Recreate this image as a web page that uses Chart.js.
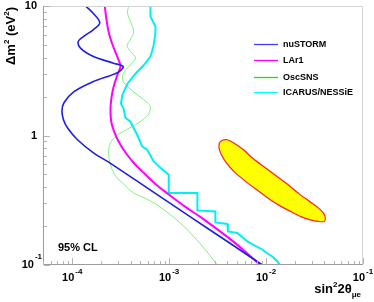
<!DOCTYPE html>
<html><head><meta charset="utf-8">
<script src="https://cdn.jsdelivr.net/npm/chart.js@4/dist/chart.umd.min.js"></script>
<style>html,body{margin:0;padding:0;background:#fff;overflow:hidden}canvas{display:block}</style>
</head><body>
<canvas id="c" width="374" height="302"></canvas>
<script>
const FONT = '"Liberation Sans", Arial, Helvetica, sans-serif';

// ---- data (sin^2 2theta, Delta m^2 in eV^2) ----
const nuStormX = [1.371e-4,1.618e-4,1.925e-4,1.658e-4,1.308e-4,1.153e-4,1.218e-4,1.658e-4,2.666e-4,3.357e-4,2.931e-4,1.658e-4,1.044e-4,8.23e-5,7.85e-5,8.13e-5,8.94e-5,1.134e-4,1.658e-4,2.483e-4,5.06e-4,1.658e-3,4.285e-3,9.16e-3];
const nuStormY = [10,8.91,7.45,6.58,5.81,5.31,4.73,4.07,3.62,3.40,3.06,2.61,2.18,1.79,1.554,1.324,1.148,0.927,0.735,0.610,0.427,0.235,0.1466,0.1];

const lar1X = [2.168e-4,2.257e-4,2.384e-4,2.603e-4,3.001e-4,3.147e-4,2.931e-4,2.685e-4,2.542e-4,2.483e-4,2.542e-4,2.795e-4,3.147e-4,3.690e-4,4.494e-4,5.472e-4,7.224e-4,9.61e-4,1.472e-3,2.103e-3,4.602e-3,8.73e-3];
const lar1Y = [10,7.86,6.24,5.04,3.86,3.42,2.95,2.40,1.96,1.554,1.255,1.013,0.848,0.710,0.594,0.515,0.423,0.357,0.281,0.235,0.1515,0.1];

const oscSnsX = [3.832e-4,3.716e-4,3.990e-4,4.315e-4,3.990e-4,3.690e-4,3.990e-4,4.494e-4,3.990e-4,3.404e-4,3.301e-4,3.629e-4,4.826e-4,6.119e-4,6.415e-4,5.975e-4,4.494e-4,3.147e-4,2.603e-4,2.396e-4,2.384e-4,2.483e-4,2.795e-4,3.380e-4,4.285e-4,6.415e-4,9.16e-4,1.404e-3,2.103e-3,3.147e-3];
const oscSnsY = [10,8.91,7.59,6.35,5.51,4.95,4.45,3.97,3.53,3.04,2.70,2.43,2.03,1.761,1.631,1.421,1.211,1.044,0.927,0.804,0.710,0.594,0.488,0.423,0.361,0.313,0.262,0.2003,0.1454,0.1];

const icarusX = [6.415e-4,6.415e-4,7.224e-4,7.224e-4,6.888e-4,6.415e-4,5.434e-4,4.494e-4,3.716e-4,3.301e-4,3.185e-4,3.380e-4,3.544e-4,3.990e-4,4.678e-4,5.27e-4,5.932e-4,6.937e-4,8.135e-4,9.91e-4,9.91e-4,1.958e-3,1.958e-3,3.001e-3,3.001e-3,3.990e-3,4.038e-3,5.06e-3,6.415e-3,7.398e-3,9.16e-3,1.031e-2,1.161e-2,1.308e-2,1.388e-2];
const icarusY = [10,8.29,6.94,6.13,4.86,4.07,3.47,3.00,2.51,2.07,1.761,1.625,1.372,1.278,1.013,0.823,0.776,0.630,0.563,0.497,0.359,0.359,0.264,0.2594,0.2132,0.2076,0.1816,0.1769,0.1520,0.1428,0.1318,0.1227,0.1163,0.1064,0.1];

const lsndX = [3.301e-3,3.544e-3,3.990e-3,4.602e-3,5.834e-3,7.398e-3,9.83e-3,1.308e-2,1.739e-2,2.258e-2,2.862e-2,3.461e-2,3.896e-2,4.086e-2,3.990e-2,3.461e-2,2.862e-2,2.258e-2,1.781e-2,1.339e-2,1.007e-2,7.76e-3,5.975e-3,4.712e-3,3.896e-3,3.461e-3,3.262e-3,3.301e-3];
const lsndY = [0.879,0.919,0.927,0.879,0.776,0.661,0.563,0.480,0.409,0.348,0.307,0.276,0.2525,0.2310,0.2170,0.2170,0.2229,0.2372,0.2594,0.2912,0.3357,0.3873,0.4505,0.524,0.6155,0.710,0.804,0.879];

const seriesNames = ['nuSTORM','LAr1','OscSNS','ICARUS/NESSiE'];
const xTickExps = [-4,-3,-2,-1];
const yTickVals = [10,1,0.1];

const pts = (xs, ys) => xs.map((x, i) => ({x, y: ys[i]}));

const legendColors = ['#3c3cff','#ff00ff','#00f000','#00ffff'];

function drawPow(ctx, base, exp, cx, yBase, yExp, align) {
  ctx.font = 'bold 11px ' + FONT;
  const wb = ctx.measureText(base).width;
  ctx.font = 'bold 8px ' + FONT;
  const we = exp ? ctx.measureText(exp).width + 1 : 0;
  const tot = wb + we;
  let x0 = align === 'right' ? cx - tot : cx - tot / 2;
  ctx.textAlign = 'left';
  ctx.textBaseline = 'middle';
  ctx.font = 'bold 11px ' + FONT;
  ctx.fillText(base, x0, yBase);
  if (exp) {
    ctx.font = 'bold 8px ' + FONT;
    ctx.fillText(exp, x0 + wb + 1, yExp);
  }
}

const rootPlugin = {
  id: 'rootAxes',
  afterDatasetsDraw(chart) {
    const ctx = chart.ctx, xs = chart.scales.x, ys = chart.scales.y, a = chart.chartArea;
    ctx.save();
    ctx.lineWidth = 1;
    ctx.strokeStyle = '#d4d4d4';
    ctx.beginPath();
    ctx.moveTo(a.left, a.top + 0.5); ctx.lineTo(a.right - 0.5, a.top + 0.5); ctx.lineTo(a.right - 0.5, a.bottom);
    ctx.stroke();
    ctx.strokeStyle = '#9c9c9c';
    ctx.beginPath();
    ctx.moveTo(a.left + 0.5, a.top); ctx.lineTo(a.left + 0.5, a.bottom - 0.5); ctx.lineTo(a.right, a.bottom - 0.5);
    ctx.stroke();
    ctx.strokeStyle = '#b4b4b4';
    ctx.beginPath();
    for (let d = -5; d <= -1; d++) {
      for (let m = 1; m <= 9; m++) {
        const v = m * Math.pow(10, d);
        if (v < xs.min * 0.999 || v > xs.max * 1.001) continue;
        const px = Math.round(xs.getPixelForValue(v)) + 0.5;
        const len = m === 1 ? 6 : 3;
        ctx.moveTo(px, a.bottom - 1); ctx.lineTo(px, a.bottom - 1 - len);
      }
    }
    for (let d = -1; d <= 1; d++) {
      for (let m = 1; m <= 9; m++) {
        const v = m * Math.pow(10, d);
        if (v < ys.min * 0.999 || v > ys.max * 1.001) continue;
        const py = Math.round(ys.getPixelForValue(v)) + 0.5;
        const len = m === 1 ? 6 : 3;
        ctx.moveTo(a.left + 1, py); ctx.lineTo(a.left + 1 + len, py);
      }
    }
    ctx.stroke();

    ctx.fillStyle = '#000';
    xTickExps.forEach(e => {
      const px = xs.getPixelForValue(Math.pow(10, e));
      drawPow(ctx, '10', String(e), px, a.bottom + 13, a.bottom + 7, 'center');
    });
    yTickVals.forEach(v => {
      const py = ys.getPixelForValue(v);
      if (v === 10) drawPow(ctx, '10', '', 37, py, py, 'right');
      else if (v === 1) drawPow(ctx, '1', '', 37, py, py, 'right');
      else drawPow(ctx, '10', String(Math.round(Math.log10(v))), 42, py, py - 8, 'right');
    });

    const parts = [
      {t: 'sin', f: 'bold 13px ', dy: 0},
      {t: '2', f: 'bold 8px ', dy: -6},
      {t: '2θ', f: 'bold 13px ', dy: 0},
      {t: 'μe', f: 'bold 8px ', dy: 4}
    ];
    let tw = 0;
    parts.forEach(p => { ctx.font = p.f + FONT; p.w = ctx.measureText(p.t).width; tw += p.w; });
    let xx = 361 - tw;
    ctx.textAlign = 'left';
    ctx.textBaseline = 'alphabetic';
    parts.forEach(p => { ctx.font = p.f + FONT; ctx.fillText(p.t, xx, 293 + p.dy); xx += p.w; });

    const yparts = [
      {t: 'Δm', f: 'bold 13px ', dy: 0},
      {t: '2', f: 'bold 8px ', dy: -6},
      {t: ' (eV', f: 'bold 13px ', dy: 0},
      {t: '2', f: 'bold 8px ', dy: -6},
      {t: ')', f: 'bold 13px ', dy: 0}
    ];
    let yw = 0;
    yparts.forEach(p => { ctx.font = p.f + FONT; p.w = ctx.measureText(p.t).width; yw += p.w; });
    ctx.save();
    ctx.translate(15, 7);
    ctx.rotate(-Math.PI / 2);
    let yy = -yw;
    yparts.forEach(p => { ctx.font = p.f + FONT; ctx.fillText(p.t, yy, p.dy); yy += p.w; });
    ctx.restore();

    ctx.font = 'bold 11px ' + FONT;
    ctx.fillText('95% CL', 58, 251);

    const rows = [44, 60, 77, 92];
    seriesNames.forEach((n, i) => {
      ctx.strokeStyle = legendColors[i];
      ctx.lineWidth = 1.3;
      ctx.beginPath();
      ctx.moveTo(254, rows[i] + 0.5); ctx.lineTo(278, rows[i] + 0.5);
      ctx.stroke();
      ctx.font = 'bold 9px ' + FONT;
      ctx.textBaseline = 'middle';
      ctx.fillStyle = '#000';
      ctx.fillText(n, 283, rows[i] + 0.5);
    });
    ctx.restore();
  }
};

new Chart(document.getElementById('c'), {
  type: 'scatter',
  data: {
    datasets: [
      {label: seriesNames[0], data: pts(nuStormX, nuStormY), showLine: true, borderColor: '#1e1ee6', borderWidth: 1.6, tension: 0.35, pointRadius: 0, fill: false},
      {label: seriesNames[1], data: pts(lar1X, lar1Y), showLine: true, borderColor: '#ff00ff', borderWidth: 2, tension: 0.35, pointRadius: 0, fill: false},
      {label: seriesNames[3], data: pts(icarusX, icarusY), showLine: true, borderColor: '#00f0f0', borderWidth: 2, tension: 0, pointRadius: 0, fill: false},
      {label: seriesNames[2], data: pts(oscSnsX, oscSnsY), showLine: true, borderColor: '#80f080', borderWidth: 1, tension: 0.35, pointRadius: 0, fill: false},
      {label: 'LSND', data: pts(lsndX, lsndY), showLine: true, borderColor: '#ff2020', borderWidth: 1.2, backgroundColor: '#ffff00', tension: 0.3, pointRadius: 0, fill: 'shape'}
    ]
  },
  options: {
    responsive: false,
    animation: false,
    devicePixelRatio: 1,
    layout: {padding: {left: 43, right: 11, top: 6, bottom: 37}},
    plugins: {legend: {display: false}, tooltip: {enabled: false}},
    scales: {
      x: {type: 'logarithmic', min: 5e-5, max: 0.1, bounds: 'data', display: false},
      y: {type: 'logarithmic', min: 0.1, max: 10, bounds: 'data', display: false}
    }
  },
  plugins: [rootPlugin]
});
</script>
</body></html>
